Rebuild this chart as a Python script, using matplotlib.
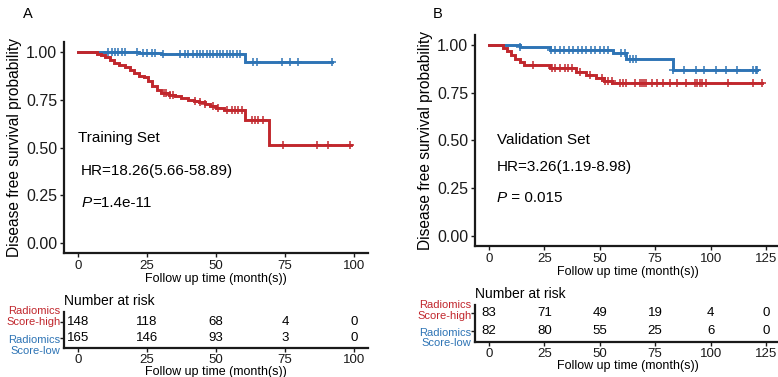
import matplotlib
matplotlib.use("Agg")
import matplotlib.pyplot as plt
import matplotlib.transforms as mtransforms
import numpy as np

plt.rcParams['font.family'] = ['Liberation Sans', 'DejaVu Sans']

red = "#c1272d"
blue = "#2e74b5"

# ---- panel A : training set ----
a_high_t = [0, 7, 8.5, 10, 11.5, 13, 15, 17, 19, 20.5, 22, 24, 25.5, 27, 28.5, 30,
            33, 35, 37.5, 40, 42, 44, 46, 48, 50, 53, 60.5, 69]
a_high_s = [1, 0.99, 0.98, 0.97, 0.955, 0.94, 0.93, 0.92, 0.905, 0.89, 0.875, 0.865,
            0.845, 0.82, 0.80, 0.785, 0.775, 0.77, 0.76, 0.75, 0.745, 0.735, 0.725,
            0.715, 0.705, 0.695, 0.645, 0.515]
a_high_end = 99
a_high_cens = [31, 32, 33.3, 34.5, 42.3, 44.2, 46, 49, 50.8, 54, 55.7, 57, 58, 59.3,
               63, 64, 65.3, 67, 74.4, 86.5, 90.7, 98.5]

a_low_t = [0, 22, 30, 60.5]
a_low_s = [1, 0.995, 0.99, 0.945]
a_low_end = 92
a_low_cens = [11, 12.2, 13.4, 14.6, 15.8, 17, 21.3, 23.7, 24.9, 26.7, 27.9, 30.9,
              36.9, 38.7, 39.9, 41.7, 43, 44.2, 45.4, 46.6, 47.8, 49, 50.2, 51.5,
              52.7, 53.9, 55.1, 56.3, 57.5, 58.7, 63.5, 64.7, 73.8, 76.8, 79.8, 91.9]

a_risk_times = [0, 25, 50, 75, 100]
a_risk_high = [148, 118, 68, 4, 0]
a_risk_low = [165, 146, 93, 3, 0]

# ---- panel B : validation set ----
b_high_t = [0, 6.3, 8, 10, 12, 14, 16, 27.5, 39.5, 44, 48.5, 52, 55.5]
b_high_s = [1, 0.98, 0.965, 0.945, 0.925, 0.91, 0.895, 0.88, 0.855, 0.84, 0.825,
            0.81, 0.80]
b_high_end = 123
b_high_cens = [19.8, 28.3, 29.7, 32, 34.2, 35.6, 37.4, 41, 45.5, 50.9, 52.3, 53.6,
               55.4, 59, 60.4, 62, 65.8, 68, 69, 70, 71, 73.4, 75.7, 78.4, 81.5,
               84.7, 89, 92.8, 94, 95, 96, 98, 107.7, 119, 123]

b_low_t = [0, 14, 27.5, 56, 62, 83]
b_low_s = [1, 0.986, 0.972, 0.955, 0.925, 0.87]
b_low_end = 121
b_low_cens = [14, 28.2, 30, 32, 34, 36, 38, 40, 42, 44, 46, 48, 50, 52, 53.7,
              59.8, 61.5, 63.5, 65, 66.5, 83, 88, 93.6, 97, 102.6, 107, 112, 119,
              120.6, 121]

b_risk_times = [0, 25, 50, 75, 100, 125]
b_risk_high = [83, 71, 49, 19, 4, 0]
b_risk_low = [82, 80, 55, 25, 6, 0]


def surv_at(t, s, x):
    idx = np.searchsorted(t, x, side="right") - 1
    return np.array(s)[idx]


def km(ax, t, s, end, cens, color):
    tt = list(t) + [end]
    ss = list(s) + [s[-1]]
    ax.step(tt, ss, where="post", color=color, lw=2.1, solid_joinstyle="miter")
    ax.plot(cens, surv_at(t, s, cens), ls="none", marker="+", ms=6, mew=1.1,
            color=color)


def style(ax):
    for side in ["top", "right"]:
        ax.spines[side].set_visible(False)
    for side in ["left", "bottom"]:
        ax.spines[side].set_linewidth(1.6)
        ax.spines[side].set_color("#1a1a1a")
    ax.tick_params(length=3, width=1, pad=2, colors="#1a1a1a")


fig = plt.figure(figsize=(7.78, 3.77), dpi=100)

panels = [
    dict(main=[0.0823, 0.3289, 0.3907, 0.5597], risk=[0.0823, 0.0769, 0.3907, 0.0955],
         xmax=100, high=(a_high_t, a_high_s, a_high_end, a_high_cens),
         low=(a_low_t, a_low_s, a_low_end, a_low_cens),
         times=a_risk_times, rh=a_risk_high, rl=a_risk_low,
         rows=(0.72, 0.28), glab=(0.875, 0.07),
         texts=[(0, 0.552, "Training Set"), (1, 0.38, "HR=18.26(5.66-58.89)")],
         ptext=(1.5, 0.21, "=1.4e-11"), letter=(0.036, 0.962, "A")),
    dict(main=[0.6105, 0.3475, 0.392, 0.5597], risk=[0.6105, 0.0928, 0.392, 0.0981],
         xmax=125, high=(b_high_t, b_high_s, b_high_end, b_high_cens),
         low=(b_low_t, b_low_s, b_low_end, b_low_cens),
         times=b_risk_times, rh=b_risk_high, rl=b_risk_low,
         rows=(0.78, 0.30), glab=(0.85, 0.11),
         texts=[(3.6, 0.505, "Validation Set"), (3.6, 0.36, "HR=3.26(1.19-8.98)")],
         ptext=(3.6, 0.20, " = 0.015"), letter=(0.563, 0.962, "B")),
]

for p in panels:
    ax = fig.add_axes(p["main"])
    km(ax, *p["low"], blue)
    km(ax, *p["high"], red)
    pad = p["xmax"] * 0.05
    ax.set_xlim(-pad, p["xmax"] + pad)
    ax.set_ylim(-0.05, 1.05)
    ax.set_xticks(p["times"])
    ax.set_yticks([0, 0.25, 0.5, 0.75, 1.0])
    ax.set_yticklabels(["0.00", "0.25", "0.50", "0.75", "1.00"])
    style(ax)
    ax.tick_params(axis="y", labelsize=11.5)
    ax.tick_params(axis="x", labelsize=9.5)
    ax.set_xlabel("Follow up time (month(s))", fontsize=9, labelpad=1)
    ax.set_ylabel("Disease free survival probability", fontsize=11.2, labelpad=3)
    for x, y, s in p["texts"]:
        ax.text(x, y, s, fontsize=11, va="center", ha="left")
    px, py, ps = p["ptext"]
    pt = ax.text(px, py, "P", fontsize=11, va="center", ha="left", fontstyle="italic")
    ax.annotate(ps, xy=(1, 0.5), xycoords=pt, fontsize=11, va="center", ha="left")
    fig.text(p["letter"][0], p["letter"][1], p["letter"][2], fontsize=10.5,
             va="center", ha="center")

    rax = fig.add_axes(p["risk"])
    rax.set_xlim(-pad, p["xmax"] + pad)
    rax.set_ylim(0, 1)
    for t, h, l in zip(p["times"], p["rh"], p["rl"]):
        rax.text(t, p["rows"][0], str(h), fontsize=9.5, ha="center", va="center")
        rax.text(t, p["rows"][1], str(l), fontsize=9.5, ha="center", va="center")
    rax.set_xticks(p["times"])
    rax.set_yticks(p["rows"])
    rax.set_yticklabels(["", ""])
    style(rax)
    rax.tick_params(axis="x", labelsize=9.5, pad=1)
    rax.set_xlabel("Follow up time (month(s))", fontsize=9, labelpad=0)
    rax.set_title("Number at risk", fontsize=10, loc="left", pad=5, x=0)
    trans = mtransforms.blended_transform_factory(rax.transAxes, rax.transAxes)
    rax.text(-0.012, p["glab"][0], "Radiomics\nScore-high", color=red, fontsize=8,
             ha="right", va="center", linespacing=1.05, transform=trans)
    rax.text(-0.012, p["glab"][1], "Radiomics\nScore-low", color=blue, fontsize=8,
             ha="right", va="center", linespacing=1.05, transform=trans)

fig.savefig("out.png", dpi=100)
